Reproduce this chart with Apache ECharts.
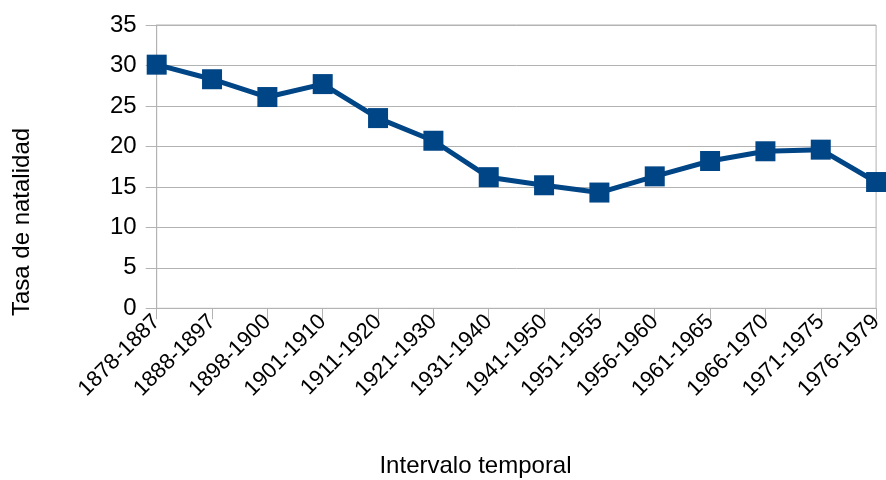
<!DOCTYPE html>
<html><head><meta charset="utf-8">
<script src="https://cdn.jsdelivr.net/npm/echarts@6/dist/echarts.min.js"></script>
<style>html,body{margin:0;padding:0;background:#fff}#c{width:886px;height:480px}</style>
</head><body><div id="c"></div>
<script>
const categories = ['1878-1887','1888-1897','1898-1900','1901-1910','1911-1920','1921-1930','1931-1940','1941-1950','1951-1955','1956-1960','1961-1965','1966-1970','1971-1975','1976-1979'];
const values = [30.1, 28.3, 26.1, 27.7, 23.5, 20.7, 16.2, 15.2, 14.3, 16.3, 18.2, 19.4, 19.6, 15.6];
const yTicks = [0, 35, 5];
const xTitle = 'Intervalo temporal';
const yTitle = 'Tasa de natalidad';

const chart = echarts.init(document.getElementById('c'), null, {renderer:'canvas'});
const font = '"Liberation Sans", Arial, sans-serif';
chart.setOption({
  animation:false,
  grid:{left:156.7, right:6, top:25, bottom:171.7, containLabel:false, show:true, borderColor:'#b3b3b3', borderWidth:1},
  xAxis:{type:'category', data:categories, boundaryGap:false,
    axisLine:{lineStyle:{color:'#b3b3b3', width:1}},
    axisTick:{show:true, length:11, lineStyle:{color:'#b3b3b3'}, alignWithLabel:true},
    axisLabel:{rotate:45, fontSize:22, color:'#000', fontFamily:font, margin:10, interval:0},
    splitLine:{show:false}},
  yAxis:{type:'value', min:yTicks[0], max:yTicks[1], interval:yTicks[2],
    axisLine:{show:true, lineStyle:{color:'#b3b3b3'}},
    axisTick:{show:true, length:11, lineStyle:{color:'#b3b3b3'}},
    axisLabel:{fontSize:24, color:'#000', fontFamily:font, margin:20},
    splitLine:{lineStyle:{color:'#b3b3b3', width:1}}},
  graphic:[
    {type:'text', x:475.5, y:466, style:{text:xTitle, font:'24px ' + font, fill:'#000', textAlign:'center', textVerticalAlign:'middle'}},
    {type:'text', rotation:Math.PI/2, x:22, y:222, style:{text:yTitle, font:'24px ' + font, fill:'#000', textAlign:'center', textVerticalAlign:'middle'}}
  ],
  series:[{type:'line', data:values, symbol:'rect', symbolSize:20,
    lineStyle:{color:'#004586', width:5}, itemStyle:{color:'#004586'}}]
});
</script></body></html>
